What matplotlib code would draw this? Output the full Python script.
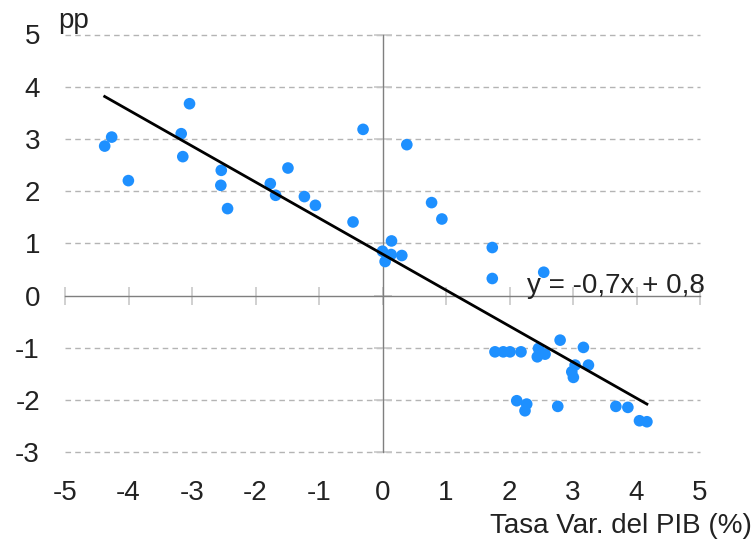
import numpy as np
import matplotlib
matplotlib.use("Agg")
import matplotlib.pyplot as plt

plt.rcParams['font.family'] = ['Liberation Sans', 'DejaVu Sans']

# Data: GDP growth (%) vs change (pp)
gdp = [-4.375, -4.265, -4.002, -3.170, -3.039, -3.145, -2.539, -2.546, -2.440,
       -1.489, -1.767, -1.683, -1.230, -1.057, -0.464, -0.306, 0.383, 0.773,
       0.935, 0.142, 0.000, 0.136, 0.304, 0.041, 1.729, 1.729, 2.539, 1.771,
       1.902, 2.008, 2.181, 2.797, 3.164, 2.457, 2.481, 2.560, 2.438, 3.243,
       3.033, 2.981, 3.006, 2.114, 2.271, 2.244, 2.760, 3.675, 3.864, 4.047,
       4.164]
pp = [2.864, 3.036, 2.203, 3.101, 3.675, 2.662, 2.400, 2.113, 1.667,
      2.444, 2.145, 1.922, 1.897, 1.730, 1.411, 3.184, 2.891, 1.782,
      1.468, 1.048, 0.851, 0.788, 0.769, 0.654, 0.922, 0.329, 0.449, -1.075,
      -1.075, -1.075, -1.075, -0.851, -0.990, -1.010, -1.105, -1.119, -1.170, -1.329,
      -1.329, -1.457, -1.564, -2.011, -2.075, -2.203, -2.119, -2.119, -2.138, -2.394,
      -2.413]
x_ticks = [-5, -4, -3, -2, -1, 0, 1, 2, 3, 4, 5]
y_ticks = [-3, -2, -1, 0, 1, 2, 3, 4, 5]
x_label = "Tasa Var. del PIB (%)"
y_label = "pp"
eq_label = "y = -0,7x + 0,8"

FS = 20
TXT = '#222222'
W, H = 755, 547
fig = plt.figure(figsize=(W / 100, H / 100), dpi=100)
pos = [65 / W, 1 - 452.4 / H, 635 / W, (452.4 - 34.5) / H]
ax = fig.add_axes(pos)
ax.set_xlim(-5, 5)
ax.set_ylim(-3, 5)

# gridlines (dashed), excluding zero
for yv in y_ticks:
    if yv != 0:
        ax.axhline(yv, color='#b4b4b4', lw=1.0, ls=(0, (4, 3)), zorder=1,
                   clip_on=False)

# spines at zero
for s in ['top', 'right']:
    ax.spines[s].set_visible(False)
ax.spines['bottom'].set_position('zero')
ax.spines['left'].set_position('zero')
for s in ['bottom', 'left']:
    ax.spines[s].set_color('#7f7f7f')
    ax.spines[s].set_linewidth(1.0)
    ax.spines[s].set_zorder(2)
ax.set_xticks(x_ticks)
ax.set_yticks(y_ticks)
ax.tick_params(direction='inout', length=13.5, width=1.2, color='#c8c8c8',
               labelbottom=False, labelleft=False)

# scatter
ax.scatter(gdp, pp, s=70, color='#1e90ff', edgecolors='none', zorder=4,
           clip_on=False)

# trend line
coef = np.polyfit(gdp, pp, 1)
xs = np.array([min(gdp), max(gdp)])
ax.plot(xs, np.polyval(coef, xs), color='black', lw=2, zorder=5)

ax.text(2.276, 0.05, eq_label, fontsize=FS, color=TXT, ha='left',
        va='baseline', zorder=6)

# labels overlay axis
ax2 = fig.add_axes(pos, frameon=False)
ax2.set_xlim(-5, 5)
ax2.set_ylim(-3, 5)
ax2.set_xticks(x_ticks)
ax2.set_yticks(y_ticks)
ax2.set_xticklabels([str(v) for v in x_ticks])
ax2.set_yticklabels([str(v) for v in y_ticks])
ax2.tick_params(length=0, labelsize=FS, labelcolor=TXT)
ax2.tick_params(axis='x', pad=20)
ax2.tick_params(axis='y', pad=18)
ax2.patch.set_visible(False)

fig.text(58 / W, 1 - 28 / H, y_label, fontsize=FS, color=TXT,
         ha='left', va='baseline')
fig.text(752 / W, 1 - 533 / H, x_label, fontsize=FS, color=TXT,
         ha='right', va='baseline')

fig.savefig('out.png', dpi=100)
